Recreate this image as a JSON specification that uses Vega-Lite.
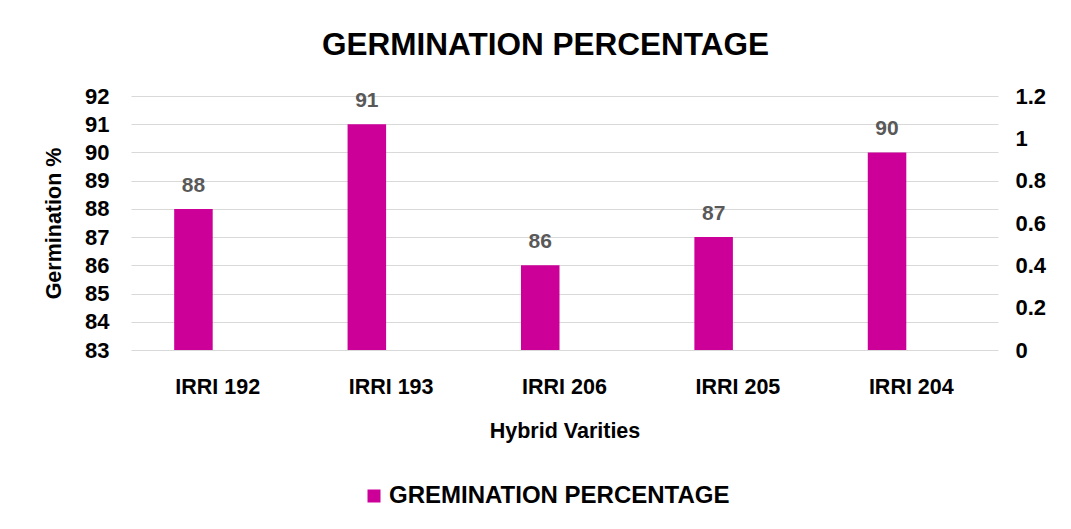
{
  "$schema": "https://vega.github.io/schema/vega-lite/v6.json",
  "autosize": "none",
  "width": 867,
  "height": 254,
  "padding": {"left": 131, "top": 96, "right": 73, "bottom": 179},
  "background": "white",
  "config": {
    "font": "Liberation Sans",
    "view": {"stroke": null},
    "axis": {"labelFont": "Liberation Sans", "titleFont": "Liberation Sans", "labelColor": "#000000", "titleColor": "#000000"}
  },
  "title": {
    "text": "GERMINATION PERCENTAGE",
    "fontSize": 31.5,
    "fontWeight": "bold",
    "color": "#000000",
    "anchor": "middle",
    "frame": "group",
    "baseline": "alphabetic",
    "offset": -1,
    "dx": -19
  },
  "data": {
    "values": [
      {"variety": "IRRI 192", "germination": 88, "series": "GREMINATION PERCENTAGE"},
      {"variety": "IRRI 193", "germination": 91, "series": "GREMINATION PERCENTAGE"},
      {"variety": "IRRI 206", "germination": 86, "series": "GREMINATION PERCENTAGE"},
      {"variety": "IRRI 205", "germination": 87, "series": "GREMINATION PERCENTAGE"},
      {"variety": "IRRI 204", "germination": 90, "series": "GREMINATION PERCENTAGE"}
    ]
  },
  "encoding": {
    "x": {
      "field": "variety",
      "type": "nominal",
      "sort": null,
      "scale": {"paddingInner": 0.498, "paddingOuter": 0.249},
      "axis": {
        "title": "Hybrid Varities",
        "labelAngle": 0,
        "labelFontSize": 21.5,
        "labelFontWeight": "bold",
        "labelPadding": 26,
        "titleFontSize": 21.5,
        "titleFontWeight": "bold",
        "titlePadding": 23,
        "ticks": false,
        "domain": false,
        "grid": false
      }
    },
    "xOffset": {
      "field": "series",
      "type": "nominal",
      "scale": {"domain": ["GREMINATION PERCENTAGE", "Secondary"], "paddingInner": 0.206, "paddingOuter": 0}
    }
  },
  "layer": [
    {
      "encoding": {
        "y": {
          "field": "germination",
          "type": "quantitative",
          "scale": {"domain": [83, 92], "zero": false, "nice": false},
          "axis": {
            "title": "Germination %",
            "values": [83, 84, 85, 86, 87, 88, 89, 90, 91, 92],
            "labelFontSize": 22,
            "labelFontWeight": "bold",
            "labelPadding": 22,
            "titleFontSize": 21.5,
            "titleFontWeight": "bold",
            "titlePadding": 19,
            "ticks": false,
            "domain": false,
            "grid": true,
            "gridColor": "#D9D9D9",
            "gridWidth": 1
          }
        }
      },
      "layer": [
        {
          "mark": {"type": "bar", "color": "#CC0099"},
          "encoding": {
            "y2": {"datum": 83},
            "color": {
              "field": "series",
              "type": "nominal",
              "scale": {"domain": ["GREMINATION PERCENTAGE"], "range": ["#CC0099"]},
              "legend": {
                "title": null,
                "orient": "none",
                "legendX": 231,
                "legendY": 388,
                "direction": "horizontal",
                "symbolType": "square",
                "symbolSize": 169,
                "symbolStrokeWidth": 0,
                "labelOffset": 3,
                "labelFontSize": 24,
                "labelFontWeight": "bold",
                "labelColor": "#000000",
                "labelFont": "Liberation Sans",
                "labelLimit": 0
              }
            }
          }
        },
        {
          "mark": {"type": "text", "baseline": "alphabetic", "dy": -17, "fontSize": 21, "fontWeight": "bold", "color": "#595959"},
          "encoding": {
            "text": {"field": "germination", "type": "quantitative"}
          }
        }
      ]
    },
    {
      "mark": {"type": "rule", "opacity": 0},
      "encoding": {
        "y": {
          "datum": 0,
          "type": "quantitative",
          "scale": {"domain": [0, 1.2], "nice": false},
          "axis": {
            "orient": "right",
            "title": null,
            "values": [0, 0.2, 0.4, 0.6, 0.8, 1, 1.2],
            "format": "~g",
            "labelFontSize": 22,
            "labelFontWeight": "bold",
            "labelPadding": 17,
            "ticks": false,
            "domain": false,
            "grid": false
          }
        }
      }
    }
  ],
  "resolve": {"scale": {"y": "independent"}}
}
